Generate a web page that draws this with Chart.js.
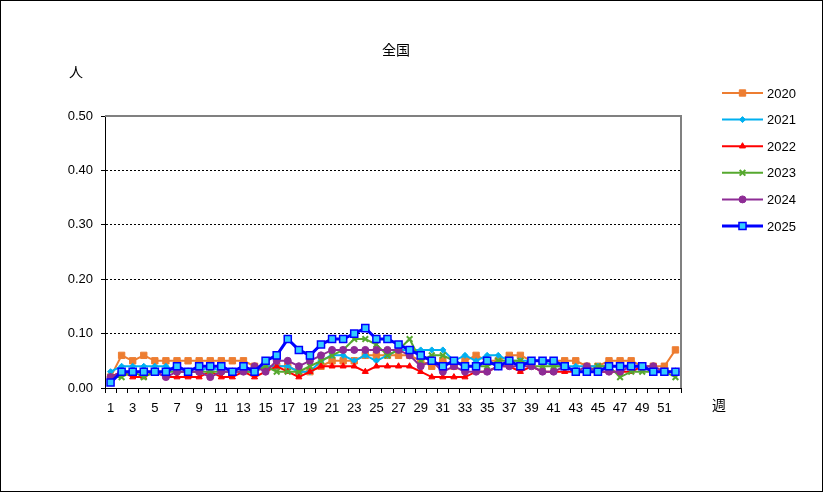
<!DOCTYPE html>
<html lang="ja">
<head>
<meta charset="utf-8">
<title>全国</title>
<script src="https://cdn.jsdelivr.net/npm/chart.js@4.4.1/dist/chart.umd.min.js"></script>
<style>
  html, body { margin: 0; padding: 0; background: #fff; }
  #wrap { width: 823px; height: 492px; }
</style>
</head>
<body>
<div id="wrap"><canvas id="grafico" width="823" height="492"></canvas></div>
<script>
// Semanas (週) e valores
const semanas = ['1','2','3','4','5','6','7','8','9','10','11','12','13','14','15','16','17','18','19','20',
  '21','22','23','24','25','26','27','28','29','30','31','32','33','34','35','36','37','38','39','40',
  '41','42','43','44','45','46','47','48','49','50','51','52'];

const anos = ['2020', '2021', '2022', '2023', '2024', '2025'];

const v2020 = [0.02,0.06,0.05,0.06,0.05,0.05,0.05,0.05,0.05,0.05,0.05,0.05,0.05,0.04,0.04,0.04,0.04,0.03,0.03,0.04,
  0.05,0.05,0.05,0.06,0.06,0.06,0.06,0.06,0.05,0.04,0.05,0.04,0.05,0.06,0.05,0.05,0.06,0.06,0.05,0.05,
  0.05,0.05,0.05,0.04,0.04,0.05,0.05,0.05,0.04,0.04,0.04,0.07];
const v2021 = [0.03,0.04,0.04,0.04,0.04,0.04,0.03,0.03,0.03,0.04,0.03,0.03,0.03,0.03,0.04,0.04,0.04,0.03,0.03,0.05,
  0.06,0.06,0.05,0.06,0.05,0.06,0.07,0.07,0.07,0.07,0.07,0.05,0.06,0.05,0.06,0.06,0.05,0.05,0.05,0.05,
  0.04,0.04,0.04,0.04,0.04,0.04,0.04,0.04,0.04,0.03,0.03,0.03];
const v2022 = [0.02,0.03,0.02,0.02,0.03,0.02,0.02,0.02,0.02,0.03,0.02,0.02,0.03,0.02,0.03,0.04,0.03,0.02,0.03,0.04,
  0.04,0.04,0.04,0.03,0.04,0.04,0.04,0.04,0.03,0.02,0.02,0.02,0.02,0.03,0.03,0.04,0.04,0.03,0.04,0.03,
  0.03,0.03,0.03,0.03,0.03,0.03,0.03,0.03,0.04,0.03,0.03,0.03];
const v2023 = [0.02,0.02,0.03,0.02,0.03,0.03,0.03,0.03,0.03,0.03,0.03,0.03,0.03,0.03,0.04,0.03,0.03,0.03,0.04,0.05,
  0.06,0.07,0.09,0.09,0.08,0.06,0.07,0.09,0.05,0.06,0.06,0.05,0.04,0.04,0.04,0.05,0.05,0.05,0.04,0.04,
  0.04,0.04,0.03,0.03,0.04,0.04,0.02,0.03,0.03,0.03,0.03,0.02];
const v2024 = [0.02,0.03,0.03,0.03,0.03,0.02,0.03,0.03,0.03,0.02,0.03,0.03,0.03,0.04,0.03,0.05,0.05,0.04,0.05,0.06,
  0.07,0.07,0.07,0.07,0.07,0.07,0.07,0.06,0.04,0.05,0.03,0.04,0.03,0.03,0.03,0.04,0.04,0.04,0.04,0.03,
  0.03,0.04,0.03,0.04,0.03,0.03,0.03,0.04,0.04,0.04,0.03,0.03];
const v2025 = [0.01,0.03,0.03,0.03,0.03,0.03,0.04,0.03,0.04,0.04,0.04,0.03,0.04,0.03,0.05,0.06,0.09,0.07,0.06,0.08,
  0.09,0.09,0.10,0.11,0.09,0.09,0.08,0.07,0.06,0.05,0.04,0.05,0.04,0.04,0.05,0.04,0.05,0.04,0.05,0.05,
  0.05,0.04,0.03,0.03,0.03,0.04,0.04,0.04,0.04,0.03,0.03,0.03];

const valoresY = [0, 0.1, 0.2, 0.3, 0.4, 0.5];

// Estilo de cada série
const estilos = [
  { cor: '#ED7D31', fundo: '#ED7D31', ponto: 'rect',     raio: 4.5, largura: 2, borda: 1 },
  { cor: '#00B0F0', fundo: '#00B0F0', ponto: 'rectRot',  raio: 3,   largura: 2, borda: 1 },
  { cor: '#FF0000', fundo: '#FF0000', ponto: 'triangle', raio: 3.5, largura: 2, borda: 1 },
  { cor: '#56A82F', fundo: '#56A82F', ponto: 'crossRot', raio: 4,   largura: 2, borda: 2 },
  { cor: '#8E2C95', fundo: '#8E2C95', ponto: 'circle',   raio: 3.5, largura: 2, borda: 1 },
  { cor: '#0000FF', fundo: '#33CCFF', ponto: 'rect',     raio: 5,   largura: 3, borda: 1.5 }
];

const series = [v2020, v2021, v2022, v2023, v2024, v2025];

Chart.defaults.font.family = '"Liberation Sans", "Noto Sans CJK JP", sans-serif';
Chart.defaults.font.size = 13;
Chart.defaults.color = '#000';

// Textos, moldura e legenda desenhados à mão
const extras = {
  id: 'extras',
  afterDraw(chart) {
    const ctx = chart.ctx;
    const a = chart.chartArea;
    ctx.save();
    // borda cinza do gráfico (topo e direita)
    ctx.strokeStyle = '#808080';
    ctx.lineWidth = 2;
    ctx.beginPath();
    ctx.moveTo(a.left, a.top);
    ctx.lineTo(a.right, a.top);
    ctx.lineTo(a.right, a.bottom);
    ctx.stroke();

    ctx.fillStyle = '#000';
    ctx.textBaseline = 'middle';
    ctx.textAlign = 'center';
    ctx.font = '14px "Noto Sans CJK JP", sans-serif';
    ctx.fillText('全国', 396, 50);
    ctx.fillText('人', 76, 72);
    ctx.fillText('週', 719, 405);

    // legenda
    ctx.font = '13px "Liberation Sans", sans-serif';
    ctx.textAlign = 'left';
    chart.data.datasets.forEach((ds, i) => {
      const y = 93 + i * 26.6;
      ctx.strokeStyle = ds.borderColor;
      ctx.lineWidth = ds.borderWidth;
      ctx.beginPath();
      ctx.moveTo(722, y);
      ctx.lineTo(763, y);
      ctx.stroke();
      ctx.fillStyle = ds.pointBackgroundColor;
      ctx.strokeStyle = ds.pointBorderColor;
      ctx.lineWidth = ds.pointBorderWidth;
      Chart.helpers.drawPoint(ctx, {
        pointStyle: ds.pointStyle,
        radius: ds.pointRadius,
        borderWidth: ds.pointBorderWidth,
        rotation: 0
      }, 742.5, y);
      ctx.fillStyle = '#000';
      ctx.fillText(ds.label, 767, y + 1);
    });

    // moldura externa
    ctx.strokeStyle = '#000';
    ctx.lineWidth = 1;
    ctx.strokeRect(0.5, 0.5, 822, 491);
    ctx.restore();
  }
};

const fundoBranco = {
  id: 'fundoBranco',
  beforeDraw(chart) {
    const ctx = chart.ctx;
    ctx.save();
    ctx.fillStyle = '#fff';
    ctx.fillRect(0, 0, chart.width, chart.height);
    ctx.restore();
  }
};

const config = {
  type: 'line',
  data: {
    labels: semanas,
    datasets: anos.map((ano, i) => ({
      label: ano,
      data: series[i],
      borderColor: estilos[i].cor,
      borderWidth: estilos[i].largura,
      backgroundColor: estilos[i].fundo,
      pointStyle: estilos[i].ponto,
      pointRadius: estilos[i].raio,
      pointBackgroundColor: estilos[i].fundo,
      pointBorderColor: estilos[i].cor,
      pointBorderWidth: estilos[i].borda,
      tension: 0,
      fill: false,
      order: anos.length - i
    }))
  },
  options: {
    responsive: false,
    devicePixelRatio: 1,
    animation: false,
    layout: { padding: { top: 116, right: 142, left: 55, bottom: 74 } },
    plugins: {
      legend: { display: false },
      title: { display: false },
      tooltip: { enabled: false }
    },
    scales: {
      x: {
        type: 'category',
        offset: true,
        grid: {
          offset: true,
          drawOnChartArea: false,
          drawTicks: true,
          tickLength: 5,
          color: '#000'
        },
        border: { display: true, color: '#000', width: 1 },
        ticks: {
          autoSkip: false,
          maxRotation: 0,
          padding: 8,
          color: '#000',
          callback: function (val, index) {
            return index % 2 === 0 ? this.getLabelForValue(val) : '';
          }
        },
        afterFit(scale) { scale.height = 30; }
      },
      y: {
        min: valoresY[0],
        max: valoresY[valoresY.length - 1],
        afterBuildTicks(scale) { scale.ticks = valoresY.map(v => ({ value: v })); },
        grid: {
          color: ctx => (ctx.tick && ctx.tick.value > 0 && ctx.tick.value < 0.5) ? '#000' : 'rgba(0,0,0,0)',
          tickColor: '#000',
          tickLength: 4,
          lineWidth: 1,
          drawTicks: true
        },
        border: { display: true, color: '#000', width: 1, dash: [2, 2] },
        ticks: {
          padding: 8,
          color: '#000',
          callback: v => Number(v).toFixed(2)
        },
        afterFit(scale) { scale.width = 50; }
      }
    }
  },
  plugins: [fundoBranco, extras]
};

new Chart(document.getElementById('grafico'), config);
</script>
</body>
</html>
